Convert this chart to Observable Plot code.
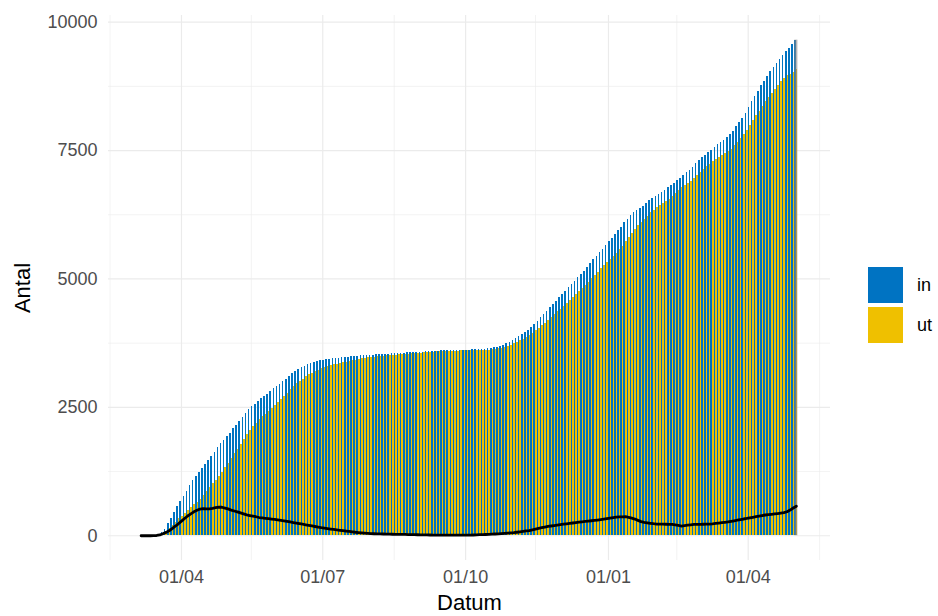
<!DOCTYPE html>
<html>
<head>
<meta charset="utf-8">
<script src="https://cdn.jsdelivr.net/npm/d3@7"></script>
<script src="https://cdn.jsdelivr.net/npm/@observablehq/plot@0.6"></script>
<style>
  html, body { margin: 0; padding: 0; background: #fff; }
  #wrap { position: relative; width: 938px; height: 616px; font-family: "Liberation Sans", Arial, sans-serif; }
  .lg { position: absolute; left: 868px; width: 35px; height: 36px; }
  .lt { position: absolute; left: 917px; font-size: 18px; color: #000; line-height: 20px; }
</style>
</head>
<body>
<div id="wrap"></div>
<script>
// ---- data (every second day from 2020-03-06) ----
const startDate = "2020-03-06";
const stepDays = 2;
const seriesNames = ["in", "ut"];
const seriesColors = ["#0073C2", "#EFC000"];
// cumulative "in"
const inValues = [
0,0,0,0,5,10,25,60,130,230,340,450,560,660,760,870,980,1070,1150,1230,
1310,1390,1470,1550,1630,1710,1790,1860,1930,2000,2080,2150,2230,2300,2380,2450,2510,2565,2615,2665,
2710,2760,2810,2860,2905,2950,3000,3050,3110,3160,3200,3245,3275,3305,3335,3355,3375,3395,3410,3420,
3430,3440,3447,3453,3460,3466,3472,3478,3483,3489,3495,3500,3505,3510,3515,3518,3523,3528,3532,3535,
3538,3541,3545,3549,3552,3556,3560,3563,3566,3570,3573,3577,3580,3584,3588,3591,3596,3600,3602,3604,
3606,3608,3609,3610,3612,3614,3616,3618,3621,3624,3628,3633,3642,3652,3663,3675,3688,3710,3740,3765,
3800,3840,3875,3915,3960,4005,4060,4120,4180,4245,4310,4375,4440,4505,4570,4630,4695,4760,4825,4890,
4955,5025,5090,5150,5225,5300,5370,5440,5510,5580,5650,5720,5790,5860,5935,6010,6090,6160,6230,6290,
6340,6380,6420,6475,6530,6575,6610,6650,6690,6730,6775,6820,6865,6915,6960,7010,7065,7120,7180,7240,
7300,7360,7410,7460,7510,7560,7610,7660,7705,7760,7810,7880,7960,8040,8130,8230,8340,8450,8550,8650,
8760,8850,8940,9030,9110,9190,9280,9360,9420,9480,9560,9650
];
// currently admitted (in - ut), the black line
const currentValues = [
0,0,0,0,2,5,15,40,65,95,140,185,233,285,335,385,425,465,495,520,
527,525,525,535,548,558,555,538,522,500,482,465,445,425,405,393,382,370,355,347,
340,333,325,318,308,298,288,278,268,257,245,234,224,213,202,191,180,169,158,149,
140,131,122,113,105,98,90,83,76,68,62,57,52,47,42,39,37,35,34,32,
31,29,28,27,26,25,23,22,21,19,18,17,16,15,14,13,13,13,13,13,
12,12,12,12,13,13,14,15,17,20,22,24,26,30,34,38,42,47,51,56,
60,68,76,85,93,101,115,130,145,158,170,182,190,199,208,217,226,233,240,248,
256,264,271,278,285,292,299,306,314,323,333,342,351,361,366,369,370,358,343,325,
300,275,262,252,243,234,227,226,225,224,222,220,210,200,188,196,205,213,220,222,
223,224,225,227,231,239,246,254,261,269,280,291,303,314,326,336,348,359,370,382,
394,404,411,418,425,432,440,449,467,500,540,575
];
// axis ticks
const yMajor = [0, 2500, 5000, 7500, 10000];
const yMinor = [1250, 3750, 6250, 8750];
const xMajor = ["2020-04-01", "2020-07-01", "2020-10-01", "2021-01-01", "2021-04-01"];
const xMinor = ["2020-02-15", "2020-05-16", "2020-08-16", "2020-11-15", "2021-02-14", "2021-05-17"];
const xDomain = ["2020-02-14", "2021-05-24"];
const yDomain = [-482, 10130];

// ---- build table ----
const t0 = d3.utcParse("%Y-%m-%d")(startDate);
const rows = inValues.map((v, i) => {
  const date = d3.utcDay.offset(t0, i * stepDays);
  return {
    date,
    left: d3.utcHour.offset(date, -24),
    right: d3.utcHour.offset(date, 24),
    under: d3.utcHour.offset(date, 47),
    in: v,
    current: currentValues[i],
    ut: v - currentValues[i]
  };
});
const last = rows.slice(-1);
const parse = d3.utcParse("%Y-%m-%d");
const grid = "#ebebeb";
const txt = "#4d4d4d";

const chart = Plot.plot({
  width: 938,
  height: 616,
  marginLeft: 108,
  marginRight: 108,
  marginTop: 15,
  marginBottom: 56,
  style: { fontFamily: "Liberation Sans, Arial, sans-serif", background: "#fff", overflow: "visible" },
  x: { type: "utc", domain: xDomain.map(parse) },
  y: { domain: yDomain },
  marks: [
    Plot.ruleY(yMinor, { stroke: grid, strokeWidth: 0.6 }),
    Plot.ruleY(yMajor, { stroke: grid, strokeWidth: 1.2 }),
    Plot.ruleX(xMinor.map(parse), { stroke: grid, strokeWidth: 0.6 }),
    Plot.ruleX(xMajor.map(parse), { stroke: grid, strokeWidth: 1.2 }),
    // yellow ("ut") first, reaching under the next blue bar so no gaps appear
    Plot.rect(rows.slice(0, -1), { x1: "date", x2: "under", y1: 0, y2: "ut", fill: seriesColors[1], shapeRendering: "crispEdges" }),
    Plot.rect(last, { x1: "date", x2: "right", y1: 0, y2: "ut", fill: seriesColors[1], shapeRendering: "crispEdges" }),
    Plot.rect(rows, { x1: "left", x2: "date", y1: 0, y2: "in", fill: seriesColors[0], shapeRendering: "crispEdges" }),
    Plot.rect(last, { x1: "left", x2: "right", y1: 0, y2: "in", fill: "#868686", fillOpacity: 0.6 }),
    Plot.line(rows, { x: "date", y: "current", stroke: "#000", strokeWidth: 2.8, curve: "linear" }),
    Plot.axisY({ ticks: yMajor, tickFormat: d3.format("d"), tickSize: 0, tickPadding: 11, fontSize: 18, color: txt, label: null }),
    Plot.axisX({ ticks: xMajor.map(parse), tickFormat: d3.utcFormat("%d/%m"), tickSize: 0, tickPadding: 10, fontSize: 18, color: txt, label: null }),
    Plot.text(["Antal"], { frameAnchor: "left", dx: -86, rotate: -90, fontSize: 22, fill: "#000", textAnchor: "middle", lineAnchor: "middle" }),
    Plot.text(["Datum"], { frameAnchor: "bottom", dy: 42, fontSize: 22, fill: "#000", textAnchor: "middle", lineAnchor: "middle" })
  ]
});
const wrap = document.getElementById("wrap");
wrap.appendChild(chart);

// legend
seriesNames.forEach((name, i) => {
  const sw = document.createElement("div");
  sw.className = "lg";
  sw.style.top = (267 + i * 40) + "px";
  sw.style.background = seriesColors[i];
  wrap.appendChild(sw);
  const lt = document.createElement("div");
  lt.className = "lt";
  lt.style.top = (275 + i * 40) + "px";
  lt.textContent = name;
  wrap.appendChild(lt);
});
</script>
</body>
</html>
